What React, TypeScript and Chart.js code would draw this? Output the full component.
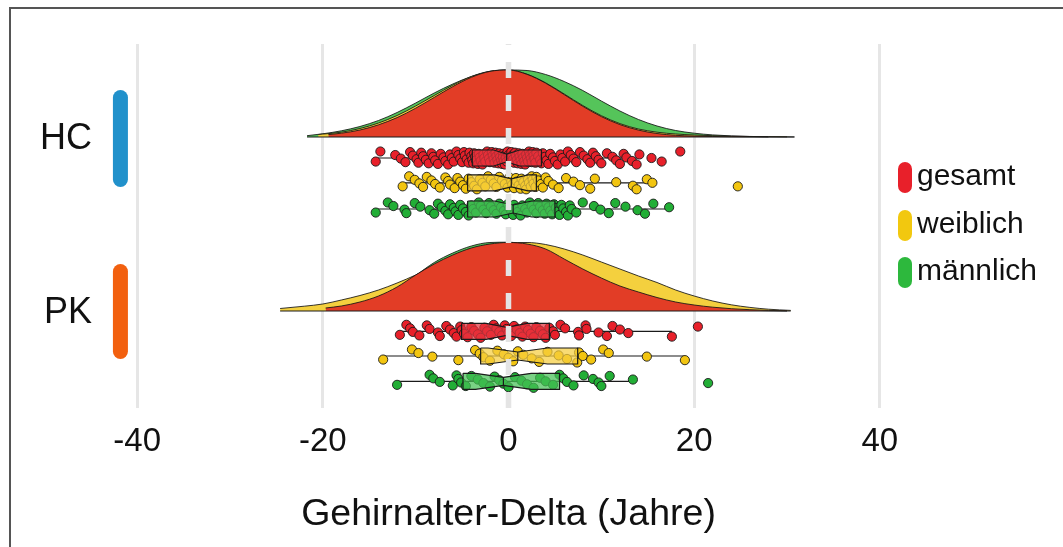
import React, { useEffect, useRef } from 'react';
import { Chart, registerables } from 'chart.js';

Chart.register(...registerables);

// ---------------- data ----------------
const GROUPS = ['HC', 'PK'];
const SERIES = ['gesamt', 'weiblich', 'männlich'];
const X_TICKS = [-40, -20, 0, 20, 40];
const AXIS_TITLE = 'Gehirnalter-Delta (Jahre)';

// density curves: [x, height]
const HC_DENS_GESAMT = [[-19.4, 2.4], [-18, 3.8], [-16, 7.0], [-14, 12.2], [-12, 19.4], [-10, 28.8], [-8, 39.6], [-6, 50.4], [-4, 59.7], [-2, 65.6], [0, 67], [2, 62.6], [4, 53.8], [6, 42.4], [8, 30.7], [10, 20.4], [12, 12.4], [14, 6.9], [16, 3.5], [18, 1.7], [20, 0.9], [22, 0.5], [24, 0.25], [26, 0.1], [28, 0.05]];
const HC_DENS_WEIBLICH = [[-20.5, 2.5], [-20, 2.9], [-18, 4.8], [-16, 8.5], [-14, 14], [-12, 21.5], [-10, 31], [-8, 41.5], [-6, 51.8], [-4, 60.5], [-2, 65.8], [0, 67], [2, 62.8], [4, 54.2], [6, 43], [8, 31.5], [10, 21.3], [12, 13.4], [14, 8], [16, 4.8], [18, 3], [20, 2], [22, 1.3], [24, 0.8], [26, 0.5], [28, 0.3], [30, 0.15]];
const HC_DENS_MAENNLICH = [[-21.7, 1.3], [-20, 3.2], [-18, 6.2], [-16, 10.5], [-14, 16.5], [-12, 24.5], [-10, 34], [-8, 44], [-6, 53], [-4, 60.5], [-2, 65.5], [0, 67], [2, 66.5], [4, 62.5], [6, 55.5], [8, 46.5], [10, 36], [12, 26], [14, 17.5], [16, 11], [18, 6.5], [20, 3.8], [22, 2.1], [24, 1.1], [26, 0.55], [28, 0.25], [30.8, 0.1]];
const PK_DENS_GESAMT = [[-19.7, 3.0], [-18, 5.0], [-16, 9.0], [-14, 15], [-12, 24], [-10, 36], [-8, 47], [-6, 56], [-4, 63], [-2, 67], [0, 68.5], [2, 67], [4, 62], [6, 52], [8, 42], [10, 33], [12, 25], [14, 19], [16, 13.5], [18, 9], [20, 6], [22, 3.8], [24, 2.3], [26, 1.3], [28, 0.6], [30, 0.2]];
const PK_DENS_WEIBLICH = [[-24.6, 2.5], [-22, 4.8], [-20, 7], [-18, 11], [-16, 15.5], [-14, 21], [-12, 28], [-10, 36], [-8, 45], [-6, 53], [-4, 60], [-2, 65], [0, 68], [2, 68.5], [4, 66.5], [6, 62], [8, 56], [10, 49], [12, 42], [14, 35], [16, 28.5], [18, 21], [20, 15], [22, 10], [24, 6.2], [26, 3.6], [28, 1.8], [30.4, 0.6]];
const PK_DENS_MAENNLICH = [[-21, 2.0], [-20, 2.6], [-18, 4.5], [-16, 8], [-14, 14], [-12, 23], [-10, 35.5], [-8, 48.5], [-6, 58], [-4, 65], [-2, 68.5], [0, 68.8], [2, 66], [4, 60], [6, 51], [8, 41], [10, 31], [12, 23], [14, 16.5], [16, 11], [18, 7], [20, 4.2], [22, 2.5], [24, 1.4], [26, 0.7], [28, 0.3], [30, 0.1]];

// individual values (brain age delta, years)
const HC_GESAMT = [
  -14.3, -13.8, -12.2, -11.6, -11.1, -10.6, -10.3, -9.9, -9.7, -9.4, -9.2, -8.9, -8.6, -8.3, -8.1, -7.9, -7.6, -7.3, -7.0, -6.8, -6.5, -6.3, -6.1, -5.9, -5.6, -5.4, -5.2, -5.0, -4.8, -4.7, -4.5, -4.3, -4.2, -4.0, -3.9,
  -3.8, -3.7, -3.6, -3.5, -3.3, -3.2, -3.1, -3.0, -2.8, -2.7, -2.6, -2.5, -2.3, -2.2, -2.1, -2.0, -1.8, -1.7, -1.6, -1.5, -1.4, -1.3, -1.2, -1.1, -1.0, -0.9, -0.8, -0.7, -0.6, -0.6, -0.5, -0.4, -0.3, -0.3, -0.2,
  -0.1, 0.0, 0.1, 0.2, 0.3, 0.4, 0.5, 0.6, 0.7, 0.8, 0.9, 1.0, 1.1, 1.2, 1.3, 1.4, 1.5, 1.6, 1.7, 1.8, 1.9, 2.0, 2.1, 2.2, 2.3, 2.4, 2.5, 2.6, 2.7, 2.8, 2.9, 3.0, 3.2, 3.4, 3.55,
  3.7, 3.9, 4.1, 4.3, 4.5, 4.8, 5.0, 5.3, 5.6, 5.8, 6.1, 6.4, 6.7, 7.0, 7.3, 7.7, 8.1, 8.5, 8.8, 9.1, 9.4, 9.7, 10.0, 10.6, 11.2, 11.6, 12.0, 12.4, 12.7, 13.3, 13.8, 14.1, 15.4, 16.5, 18.5
];
const HC_WEIBLICH = [
  -11.4, -10.7, -10.1, -9.6, -9.2, -8.8, -8.3, -7.9, -7.4, -6.8, -6.5, -6.3, -5.8, -5.5, -5.2, -4.9, -4.6,
  -4.3, -4.0, -3.7, -3.4, -3.1, -2.8, -2.5, -2.2, -1.9, -1.6, -1.3, -1.0, -0.7, -0.4, -0.1, 0.1, 0.3,
  0.4, 0.6, 0.8, 0.9, 1.1, 1.3, 1.4, 1.6, 1.8, 1.9, 2.1, 2.2, 2.4, 2.5, 2.6, 2.7, 2.9, 3.0,
  3.2, 3.5, 3.7, 4.0, 4.3, 4.8, 5.4, 6.2, 7.0, 7.7, 8.8, 9.3, 11.6, 13.4, 13.8, 14.9, 15.5, 24.7
];
const HC_MAENNLICH = [
  -14.3, -13.0, -12.4, -11.2, -11.0, -10.1, -9.5, -8.5, -8.0, -7.6, -7.2, -6.8, -6.5, -6.3, -5.9, -5.7, -5.4, -5.2, -4.9, -4.6,
  -4.3, -4.0, -3.8, -3.5, -3.2, -3.0, -2.7, -2.4, -2.1, -1.9, -1.6, -1.3, -1.0, -0.8, -0.5, -0.3, -0.1, 0.1, 0.3, 0.5,
  0.6, 0.8, 1.0, 1.3, 1.5, 1.8, 2.0, 2.3, 2.5, 2.7, 3.0, 3.2, 3.4, 3.7, 3.9, 4.1, 4.3, 4.5, 4.7, 4.9,
  5.1, 5.3, 5.5, 5.7, 5.9, 6.2, 6.4, 6.6, 6.8, 7.3, 8.0, 9.2, 9.9, 10.8, 11.5, 12.6, 13.9, 14.7, 15.6, 17.3
];
const PK_GESAMT = [
  -11.7, -11.0, -10.6, -10.3, -9.6, -8.8, -8.5, -7.6, -7.4, -6.7, -6.3, -5.9, -5.6, -5.2, -5.05,
  -4.8, -4.4, -4.0, -3.7, -3.3, -3.0, -2.6, -2.3, -1.9, -1.6, -1.3, -1.0, -0.7, -0.4, -0.2,
  0.0, 0.3, 0.6, 0.9, 1.2, 1.5, 1.8, 2.1, 2.4, 2.7, 3.0, 3.4, 3.7, 4.0, 4.4,
  4.8, 5.0, 5.6, 6.1, 7.5, 7.6, 8.3, 8.4, 9.7, 10.6, 11.2, 12.0, 12.9, 17.6, 20.4
];
const PK_WEIBLICH = [
  -13.5, -10.4, -9.7, -8.2, -5.4, -3.6, -3.1,
  -2.7, -2.0, -1.2, -0.5, 0.0, 0.5, 1.0,
  1.6, 2.5, 3.3, 4.2, 5.4, 6.3, 7.4,
  7.6, 8.0, 8.9, 10.2, 10.8, 14.9, 19.0
];
const PK_MAENNLICH = [
  -12.0, -8.5, -8.1, -7.4, -6.0, -5.6, -5.4, -5.1,
  -4.6, -4.0, -3.3, -2.7, -2.0, -1.5, -1.0, -0.55,
  0.0, 0.7, 1.4, 2.0, 2.7, 3.4, 4.0, 4.8, 5.5,
  5.9, 6.3, 7.0, 8.1, 9.1, 9.7, 10.0, 10.9, 13.4, 21.5
];

// box statistics, order: HC gesamt, HC weiblich, HC männlich, PK gesamt, PK weiblich, PK männlich
const BOX_LOW = [-14.3, -11.4, -14.3, -11.7, -13.5, -12.0];
const BOX_Q1 = [-3.9, -4.4, -4.4, -5.05, -3.0, -4.9];
const BOX_MEDIAN = [-0.2, 0.3, 0.5, -0.2, 1.0, -0.55];
const BOX_Q3 = [3.55, 3.0, 5.0, 4.4, 7.45, 5.5];
const BOX_HIGH = [14.1, 15.5, 17.3, 17.6, 19.0, 13.4];
const BOX_NOTCH = [1.4, 1.8, 2.0, 2.2, 3.2, 3.0];

const DENS = [
  [HC_DENS_GESAMT, HC_DENS_WEIBLICH, HC_DENS_MAENNLICH],
  [PK_DENS_GESAMT, PK_DENS_WEIBLICH, PK_DENS_MAENNLICH],
];
const VALUES = [
  [HC_GESAMT, HC_WEIBLICH, HC_MAENNLICH],
  [PK_GESAMT, PK_WEIBLICH, PK_MAENNLICH],
];

// ---------------- layout & style ----------------
const FONT = '"Liberation Sans", Arial, Helvetica, sans-serif';
const TEXT = '#111111';
const Y_MAX = 36.4;
const DENS_SCALE = 0.1;
const GROUP_BASE = [27.1, 9.7];
const ROW_Y = [[25.0, 22.52, 19.9], [7.67, 5.2, 2.67]];
const GROUP_BAR = [[22.85, 31.05], [5.65, 13.65]];
const GROUP_BAR_X = -41.8;
const GROUP_COLORS = ['#2191CB', '#F2600F'];
const BOX_HALF = 0.8;
const NOTCH_DEPTH = 0.5;
const JITTER = 0.65;
const DENS_FILL = ['#E23D26', '#F4D03E', '#55C45A'];
const POINT_COLORS = ['#E8202A', '#F2C511', '#22AE36'];
const BOX_FILL = ['rgba(230,52,62,0.72)', 'rgba(245,205,62,0.72)', 'rgba(70,192,86,0.72)'];
const LEGEND_COLORS = ['#E8202A', '#F2C80F', '#2DB83D'];
const LINE = '#1a1a1a';

function jitter(i: number) {
  return (((i * 17 + 5) % 23) / 22 - 0.5) * 2 * JITTER;
}

function buildDatasets() {
  const ds: any[] = [];
  const common = { pointRadius: 0, pointHoverRadius: 0, pointHitRadius: 0 };
  GROUPS.forEach((g, gi) => {
    const base = GROUP_BASE[gi];
    DENS[gi].forEach((curve, si) => {
      ds.push({
        type: 'line',
        label: g + ' ' + SERIES[si] + ' density',
        data: curve.map(([x, h]) => ({ x, y: base + h * DENS_SCALE })),
        fill: { value: base },
        backgroundColor: DENS_FILL[si],
        borderColor: 'rgba(20,20,20,0.85)',
        borderWidth: 1,
        cubicInterpolationMode: 'monotone',
        order: 100 + si,
        ...common,
      });
    });
    const xs = DENS[gi].flat().map((p) => p[0]);
    ds.push({
      type: 'line',
      data: [{ x: Math.min(...xs), y: base }, { x: Math.max(...xs), y: base }],
      borderColor: LINE, borderWidth: 1.2, fill: false, order: 99, ...common,
    });
    ds.push({
      type: 'line',
      data: GROUP_BAR[gi].map((y) => ({ x: GROUP_BAR_X, y })),
      borderColor: GROUP_COLORS[gi], borderWidth: 15, borderCapStyle: 'round',
      fill: false, order: 98, ...common,
    });
    SERIES.forEach((s, si) => {
      const k = gi * 3 + si;
      const yc = ROW_Y[gi][si];
      ds.push({
        type: 'line',
        data: [{ x: BOX_LOW[k], y: yc }, { x: BOX_HIGH[k], y: yc }],
        borderColor: LINE, borderWidth: 1.2, fill: false, order: 90, ...common,
      });
      ds.push({
        type: 'scatter',
        label: g + ' ' + s,
        data: VALUES[gi][si].map((v, i) => ({ x: v, y: yc + jitter(i) })),
        showLine: false,
        pointRadius: 4.6,
        pointHoverRadius: 4.6,
        pointBackgroundColor: POINT_COLORS[si],
        pointBorderColor: LINE,
        pointBorderWidth: 0.9,
        order: 80,
      });
      const q1 = BOX_Q1[k], q3 = BOX_Q3[k], m = BOX_MEDIAN[k], n = BOX_NOTCH[k];
      const top = yc + BOX_HALF, bot = yc - BOX_HALF;
      const wt = yc + BOX_HALF * NOTCH_DEPTH, wb = yc - BOX_HALF * NOTCH_DEPTH;
      ds.push({
        type: 'line',
        data: [
          { x: q1, y: top }, { x: m - n, y: top }, { x: m, y: wt }, { x: m + n, y: top }, { x: q3, y: top },
          { x: q3, y: bot }, { x: m + n, y: bot }, { x: m, y: wb }, { x: m - n, y: bot }, { x: q1, y: bot },
          { x: q1, y: top },
        ],
        fill: 'shape',
        backgroundColor: BOX_FILL[si],
        borderColor: LINE, borderWidth: 1.2, tension: 0, order: 70, ...common,
      });
      ds.push({
        type: 'line',
        data: [{ x: m, y: wb }, { x: m, y: wt }],
        borderColor: LINE, borderWidth: 1.2, fill: false, order: 69, ...common,
      });
    });
  });
  ds.push({
    type: 'line',
    data: [{ x: 0, y: 0 }, { x: 0, y: Y_MAX }],
    borderColor: '#E4E4E4', borderWidth: 5.5, borderDash: [16, 17],
    fill: false, order: 1, ...common,
  });
  return ds;
}

export default function App() {
  const ref = useRef<HTMLCanvasElement | null>(null);

  useEffect(() => {
    if (!ref.current) return;
    Chart.defaults.font.family = FONT;
    const chart = new Chart(ref.current, {
      type: 'scatter',
      data: { datasets: buildDatasets() },
      options: {
        animation: false,
        responsive: false,
        maintainAspectRatio: false,
        events: [],
        layout: { padding: { left: 0, right: 146, top: 44, bottom: 0 } },
        plugins: { legend: { display: false }, tooltip: { enabled: false } },
        scales: {
          x: {
            type: 'linear',
            min: -44,
            max: 44,
            afterBuildTicks: (s: any) => { s.ticks = X_TICKS.map((v) => ({ value: v })); },
            afterFit: (s: any) => { s.height = 139; },
            border: { display: false },
            grid: {
              drawTicks: false,
              lineWidth: 3,
              color: (c: any) => (c.tick && c.tick.value === 0 ? 'rgba(0,0,0,0)' : '#E6E6E6'),
            },
            ticks: {
              font: { size: 33 },
              color: TEXT,
              padding: 14,
              maxRotation: 0,
              callback: (v: any) => String(v),
            },
            title: {
              display: true,
              text: AXIS_TITLE,
              font: { size: 37.5 },
              color: TEXT,
              padding: { top: 0, bottom: 10 },
            },
          },
          y: {
            type: 'linear',
            min: 0,
            max: Y_MAX,
            afterBuildTicks: (s: any) => { s.ticks = GROUP_BASE.map((b) => ({ value: b - 0.2 })); },
            afterFit: (s: any) => { s.width = 100; },
            border: { display: false },
            grid: { display: false, drawTicks: false },
            ticks: {
              font: { size: 36 },
              color: TEXT,
              padding: 8,
              callback: (_v: any, i: number) => GROUPS[i],
            },
          },
        },
      } as any,
    });
    return () => chart.destroy();
  }, []);

  return (
    <div>
      <canvas
        ref={ref}
        width={1063}
        height={547}
        style={{ position: 'fixed', left: 0, top: 0, width: 1063, height: 547, display: 'block' }}
      />
      <div
        style={{
          position: 'fixed', left: 9, top: 7, right: 0, bottom: 0,
          borderLeft: '2px solid #555', borderTop: '2px solid #555', pointerEvents: 'none',
        }}
      />
      <div style={{ position: 'fixed', left: 898, top: 162 }}>
        {SERIES.map((s, i) => (
          <div
            key={s}
            style={{
              position: 'absolute', left: 0, top: i * 47.5, height: 31,
              display: 'flex', alignItems: 'center', whiteSpace: 'nowrap',
            }}
          >
            <span style={{ display: 'inline-block', width: 14, height: 31, borderRadius: 7, background: LEGEND_COLORS[i] }} />
            <span
              style={{
                marginLeft: 5, font: '30px ' + FONT, color: TEXT, lineHeight: '31px',
                position: 'relative', top: -3,
              }}
            >
              {s}
            </span>
          </div>
        ))}
      </div>
    </div>
  );
}
